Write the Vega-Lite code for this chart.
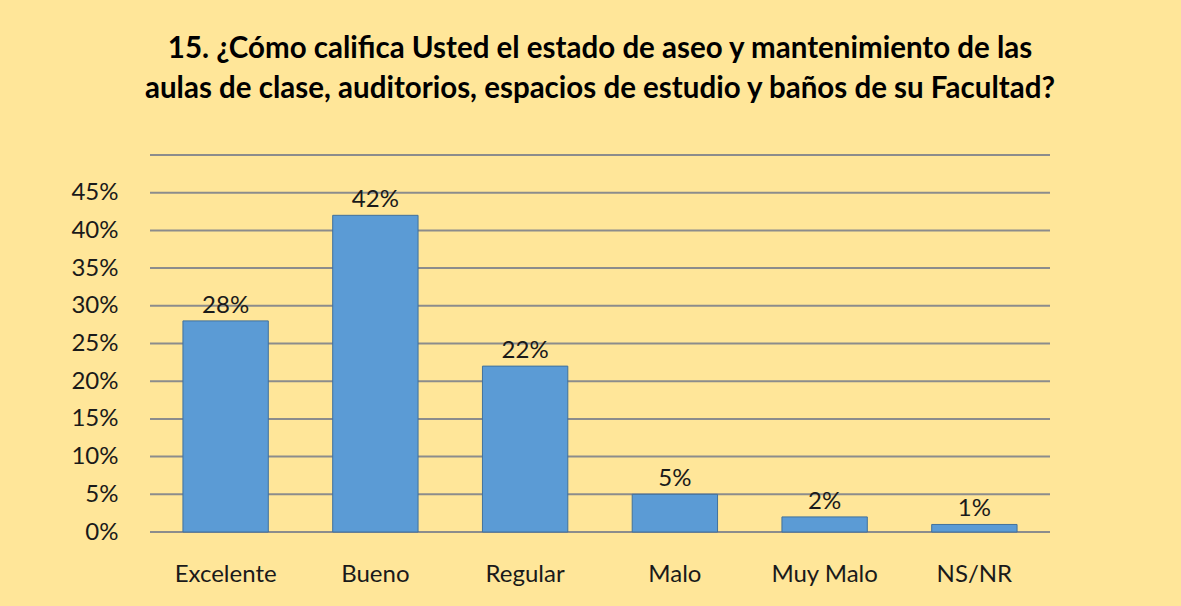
{
  "$schema": "https://vega.github.io/schema/vega-lite/v6.json",
  "autosize": {"type": "none"},
  "width": 900,
  "height": 377,
  "padding": {"left": 150, "top": 155, "right": 131, "bottom": 74},
  "background": "#FFE699",
  "title": {
    "text": ["15. ¿Cómo califica Usted el estado de aseo y mantenimiento de las", "aulas de clase, auditorios, espacios de estudio y baños de su Facultad?"],
    "font": "Lato",
    "fontSize": 29.5,
    "fontWeight": "bold",
    "color": "#000000",
    "anchor": "middle",
    "offset": 50,
    "lineHeight": 40
  },
  "data": {
    "values": [
      {"calificacion": "Excelente", "porcentaje": 0.28},
      {"calificacion": "Bueno", "porcentaje": 0.42},
      {"calificacion": "Regular", "porcentaje": 0.22},
      {"calificacion": "Malo", "porcentaje": 0.05},
      {"calificacion": "Muy Malo", "porcentaje": 0.02},
      {"calificacion": "NS/NR", "porcentaje": 0.01}
    ]
  },
  "encoding": {
    "x": {
      "field": "calificacion",
      "type": "nominal",
      "sort": null,
      "scale": {"paddingInner": 0.43, "paddingOuter": 0.22},
      "axis": {
        "title": null,
        "labelAngle": 0,
        "labelFont": "Lato",
        "labelFontSize": 24,
        "labelColor": "#1a1a1a",
        "labelPadding": 30,
        "ticks": false,
        "domain": false
      }
    },
    "y": {
      "field": "porcentaje",
      "type": "quantitative",
      "scale": {"domain": [0, 0.5]},
      "axis": {
        "title": null,
        "values": [0, 0.05, 0.1, 0.15, 0.2, 0.25, 0.3, 0.35, 0.4, 0.45],
        "format": ".0%",
        "labelFont": "Lato",
        "labelFontSize": 24,
        "labelColor": "#1a1a1a",
        "labelPadding": 32,
        "ticks": false,
        "domain": false,
        "grid": false
      }
    }
  },
  "layer": [
    {
      "mark": {"type": "rule", "color": "#8c8c8c", "strokeWidth": 2},
      "data": {"values": [{"g": 0}, {"g": 0.05}, {"g": 0.1}, {"g": 0.15}, {"g": 0.2}, {"g": 0.25}, {"g": 0.3}, {"g": 0.35}, {"g": 0.4}, {"g": 0.45}, {"g": 0.5}]},
      "encoding": {
        "y": {"field": "g", "type": "quantitative"},
        "x": null
      }
    },
    {
      "mark": {"type": "bar", "color": "#5B9BD5", "stroke": "#41719C", "strokeWidth": 1}
    },
    {
      "mark": {"type": "text", "dy": -15, "font": "Lato", "fontSize": 24, "color": "#1a1a1a"},
      "encoding": {
        "text": {"field": "porcentaje", "type": "quantitative", "format": ".0%"}
      }
    }
  ],
  "config": {"view": {"stroke": null}}
}
